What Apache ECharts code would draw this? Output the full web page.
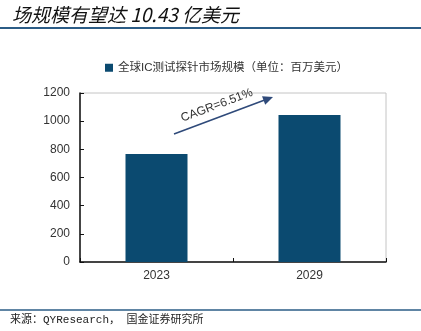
<!DOCTYPE html>
<html>
<head>
<meta charset="utf-8">
<script src="https://cdn.jsdelivr.net/npm/echarts@6/dist/echarts.min.js"></script>
<style>
  html, body { margin: 0; padding: 0; background: #fff; }
  #chart { width: 421px; height: 331px; }
</style>
</head>
<body>
<div id="chart"></div>
<script>
// Global IC test probe market size (USD million)
const years = ['2023', '2029'];
const marketSize = [766, 1043];
const yTicks = [0, 200, 400, 600, 800, 1000, 1200];
const seriesName = '全球IC测试探针市场规模（单位：百万美元）';
const titleText = '场规模有望达 10.43 亿美元';
const sourceText = '来源：QYResearch， 国金证券研究所';
const cagrText = 'CAGR=6.51%';

const navy = '#0b4a70';
const rule = '#2b5c86';
const cjk = '"Liberation Sans", "Noto Sans CJK SC", sans-serif';

const chart = echarts.init(document.getElementById('chart'), null, { renderer: 'canvas' });

// Arrow annotation between the two bars
const ax0 = 174, ay0 = 134, ax1 = 273, ay1 = 97;
const ang = Math.atan2(ay1 - ay0, ax1 - ax0);

chart.setOption({
  animation: false,
  backgroundColor: '#fff',
  legend: {
    top: 57,
    left: 100,
    itemWidth: 8,
    itemHeight: 8,
    itemGap: 3,
    icon: 'rect',
    textStyle: { fontSize: 11.5, color: '#333', fontFamily: cjk },
    data: [seriesName]
  },
  grid: {
    left: 80, right: 35, top: 93, bottom: 69,
    show: true, borderColor: '#c4c4c4', borderWidth: 1
  },
  xAxis: {
    type: 'category',
    data: years,
    axisLine: { lineStyle: { color: '#111', width: 1.5 } },
    axisTick: { show: true, inside: true, length: 4, lineStyle: { color: '#111' } },
    axisLabel: { fontSize: 12, color: '#333', margin: 8, fontFamily: cjk }
  },
  yAxis: {
    type: 'value',
    min: yTicks[0],
    max: yTicks[yTicks.length - 1],
    interval: yTicks[1] - yTicks[0],
    axisLine: { show: true, lineStyle: { color: '#111', width: 1.5 } },
    axisTick: { show: true, inside: true, length: 4, lineStyle: { color: '#111' } },
    splitLine: { show: false },
    axisLabel: {
      fontSize: 12, color: '#333', margin: 10, fontFamily: cjk,
      formatter: (v) => String(v)
    }
  },
  series: [{
    name: seriesName,
    type: 'bar',
    data: marketSize,
    barWidth: 62,
    itemStyle: { color: navy }
  }],
  graphic: [
    {
      type: 'text',
      left: 12, top: 5,
      style: {
        text: titleText,
        font: 'italic 400 19px "Noto Sans CJK SC", sans-serif',
        fill: '#111'
      }
    },
    {
      type: 'line',
      shape: { x1: 0, y1: 28, x2: 421, y2: 28 },
      style: { stroke: rule, lineWidth: 2 }
    },
    {
      type: 'line',
      shape: { x1: 0, y1: 310, x2: 421, y2: 310 },
      style: { stroke: rule, lineWidth: 1.5 }
    },
    {
      type: 'text',
      left: 10, top: 315,
      style: {
        text: sourceText,
        font: '11px "Liberation Mono", "Noto Sans CJK SC", monospace',
        fill: '#222'
      }
    },
    {
      type: 'line',
      shape: { x1: ax0, y1: ay0, x2: ax1 - 6 * Math.cos(ang), y2: ay1 - 6 * Math.sin(ang) },
      style: { stroke: '#2f4a7a', lineWidth: 1.6 }
    },
    {
      type: 'polygon',
      shape: {
        points: [
          [ax1, ay1],
          [ax1 - 10 * Math.cos(ang) + 4.5 * Math.sin(ang), ay1 - 10 * Math.sin(ang) - 4.5 * Math.cos(ang)],
          [ax1 - 10 * Math.cos(ang) - 4.5 * Math.sin(ang), ay1 - 10 * Math.sin(ang) + 4.5 * Math.cos(ang)]
        ]
      },
      style: { fill: '#2f4a7a' }
    },
    {
      type: 'text',
      x: 219, y: 111,
      rotation: -ang,
      style: {
        text: cagrText,
        font: '12px "Liberation Sans", sans-serif',
        fill: '#333',
        align: 'center',
        verticalAlign: 'bottom'
      }
    }
  ]
});
</script>
</body>
</html>
